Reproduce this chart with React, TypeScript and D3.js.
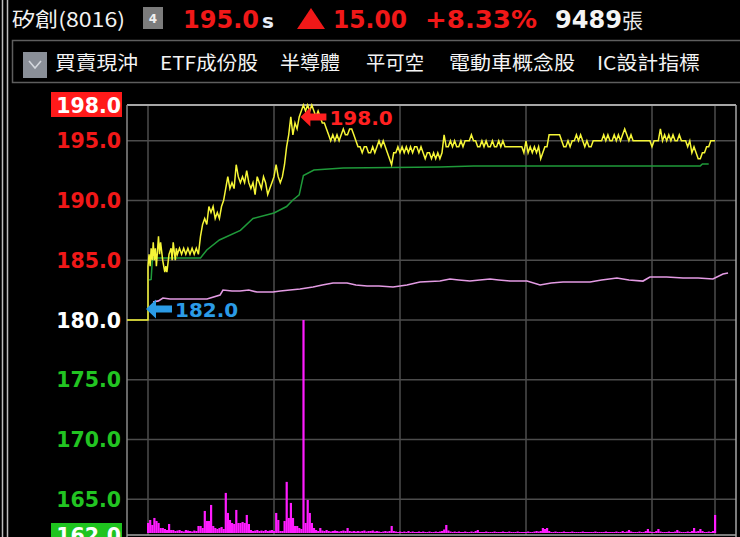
import React, { useEffect } from 'react';
import * as d3 from 'd3';

const W = 740;
const H = 537;

// ---- data ----
const stockName = '矽創(8016)';
const lastPrice = '195.0';
const change = '15.00';
const changePct = '+8.33%';
const totalVol = '9489';
const toolbarItems = ['買賣現沖', 'ETF成份股', '半導體', '平可空', '電動車概念股', 'IC設計指標'];

const yTicks = [198, 195, 190, 185, 180, 175, 170, 165, 162];
const gridPrices = [195, 190, 185, 180, 175, 170, 165];
const hourMarks = [0, 60, 120, 180, 240, 270];
const refPrice = 180;
const highPrice = 198;
const lowPrice = 182;
const highMinute = 74;
const lowMinute = 0;

// minute since 09:00, price
const pricePoints: [number, number][] = [
  [-10, 180], [0, 180],
  [0, 184.5], [0.5, 185.5], [1, 184.5], [1.5, 186], [2, 185], [2.5, 186.5], [3, 185], [3.5, 186], [4, 184.5],
  [5, 187], [5.5, 185.5], [6, 186.5], [7, 185], [7.5, 184.5], [8, 184], [8.5, 184.5], [9, 184], [10, 185.5],
  [11, 186], [11.5, 185], [12, 186.5], [13, 185], [13.5, 186], [14, 185.5], [15, 186], [16, 185.5], [17, 186],
  [18, 185.5], [19, 186], [20, 185.5], [21, 186], [22, 185.5], [23, 186], [24, 185.5], [25, 187], [26, 188],
  [27, 188.5], [28, 188], [29, 189.5], [30, 189], [31, 189.5], [32, 188.5], [33, 189], [34, 188.5], [35, 189.5],
  [36, 190], [37, 191], [38, 192], [39, 191], [40, 191.5], [41, 191], [42, 193], [43, 192], [44, 191.5],
  [45, 192], [46, 191.5], [47, 192.5], [48, 191.5], [49, 191], [50, 191.5], [51, 190.5], [52, 192], [53, 191.5],
  [54, 191], [55, 192], [56, 191.5], [57, 190.5], [58, 191], [59, 191.5], [60, 192], [61, 193], [62, 192],
  [63, 191.5], [64, 192], [65, 193], [66, 194.5], [67, 195.5], [68, 197], [69, 195.5], [70, 196.5], [71, 196],
  [72, 197], [73, 197.5], [74, 198], [75, 197.5], [76, 198], [77, 197.5], [78, 198], [79, 197.5], [80, 197],
  [81, 197.5], [82, 197], [83, 196.5], [84, 196.5], [85, 196], [86, 195.5], [87, 195], [88, 195.5], [89, 195],
  [90, 195.5], [91, 195], [92, 195.5], [93, 196], [94, 195.5], [95, 195.5], [96, 196], [97, 196], [98, 195.5],
  [99, 195], [100, 194.5], [101, 194.5], [102, 194], [103, 194.5], [104, 194.5], [105, 194], [106, 194],
  [107, 194.5], [108, 194], [109, 194.5], [110, 195], [111, 194.5], [112, 195], [113, 194.5], [114, 194],
  [115, 193.5], [116, 193], [117, 194], [118, 194], [119, 194.5], [120, 194], [121, 194.5], [122, 194],
  [123, 194.5], [124, 194], [125, 194.5], [126, 194], [127, 194.5], [128, 194.5], [129, 194], [130, 194.5],
  [131, 194], [132, 193.5], [133, 194], [134, 194], [135, 193.5], [136, 194], [137, 193.5], [138, 194],
  [139, 193.5], [140, 194], [141, 195.5], [142, 194.5], [143, 194.5], [144, 195], [145, 194.5], [146, 195],
  [147, 194.5], [148, 194.5], [149, 195], [150, 194.5], [151, 195], [152, 195], [153, 195], [154, 195.5],
  [155, 195], [156, 195], [157, 194.5], [158, 194.5], [159, 195], [160, 194.5], [161, 195], [162, 194.5],
  [163, 194.5], [164, 195], [165, 194.5], [166, 194.5], [167, 195], [168, 194.5], [169, 195], [170, 194.5],
  [171, 194.5], [172, 194.5], [174, 194.5], [176, 194.5], [178, 194.5], [179, 194], [180, 195], [181, 194],
  [182, 194.5], [183, 194], [184, 194.5], [185, 194], [186, 194.5], [187, 193.5], [188, 194], [189, 194.5],
  [190, 194.5], [191, 195.5], [192, 195.5], [194, 195.5], [196, 195.5], [197, 195], [198, 194.5], [199, 194.5],
  [200, 195], [201, 194.5], [202, 195], [203, 195], [204, 195.5], [205, 195], [206, 195.5], [207, 195],
  [208, 194.5], [209, 195], [210, 194.5], [211, 194.5], [212, 195], [214, 195], [216, 195], [217, 195.5],
  [218, 195], [219, 195.5], [220, 195], [221, 195], [222, 195.5], [223, 195], [224, 195.5], [225, 195],
  [226, 195.5], [227, 196], [228, 195.5], [229, 195], [230, 195.5], [231, 195], [234, 195], [237, 195],
  [239, 195], [240, 194.5], [241, 195], [243, 195], [244, 196], [245, 195], [246, 195.5], [247, 195],
  [248, 195.5], [249, 195], [250, 195.5], [251, 195], [252, 195], [253, 195.5], [254, 195], [256, 195],
  [257, 194.5], [258, 195], [259, 194], [260, 194.5], [261, 194], [262, 193.5], [263, 193.5], [264, 194],
  [265, 194], [266, 194.5], [267, 194.5], [268, 195], [270, 195],
];

const avgPoints: [number, number][] = [
  [0.5, 183.35], [1.5, 183.4], [2, 184.86], [2.5, 185.2], [25, 185.2], [28, 185.86], [34, 186.7], [44, 187.5],
  [50, 188.5], [60, 188.96], [66, 189.5], [69, 190.05], [72, 190.47], [74, 192.1], [79, 192.56], [93, 192.73],
  [139, 192.81], [155, 192.9], [263, 192.9], [264, 193.06], [267, 193.06],
];

const indexPoints: [number, number][] = [
  [2.4, 181.51], [5, 181.6], [7.1, 181.84], [10.5, 181.76], [20, 181.76], [28.1, 181.76], [34.3, 182.09],
  [35.7, 182.51], [40, 182.43], [43.8, 182.43], [48, 182.51], [51.9, 182.34], [59.5, 182.34], [63, 182.43],
  [67.6, 182.51], [72.4, 182.6], [78.6, 182.76], [83, 182.93], [88.1, 183.1], [94.8, 183.1], [99, 182.93],
  [104.3, 182.85], [110, 182.85], [116.7, 182.76], [123.3, 182.93], [129.5, 183.18], [139, 183.26],
  [143.8, 183.43], [148, 183.35], [153.3, 183.26], [158, 183.35], [162.9, 183.43], [167, 183.35],
  [172.4, 183.26], [180.5, 183.26], [186.7, 182.93], [192, 183.1], [197.6, 183.18], [204, 183.18],
  [210.5, 183.18], [216, 183.35], [223.3, 183.52], [229, 183.35], [235.7, 183.26], [239, 183.6],
  [247, 183.6], [254.8, 183.52], [262, 183.52], [269, 183.43], [273.8, 183.85], [276.2, 183.93],
];

// lots per minute, 09:00 .. 13:30
const volumes: number[] = [
  40, 52, 32, 60, 48, 40, 20, 20, 16, 12,
  36, 12, 12, 8, 10, 12, 8, 6, 12, 10,
  8, 6, 10, 8, 28, 28, 20, 88, 48, 48,
  112, 28, 20, 16, 20, 24, 16, 160, 80, 52,
  40, 36, 92, 40, 40, 44, 40, 72, 36, 12,
  8, 10, 12, 8, 10, 8, 12, 8, 10, 12,
  8, 80, 52, 8, 8, 48, 204, 60, 120, 60,
  28, 28, 20, 16, 850, 40, 132, 80, 40, 20,
  12, 8, 20, 10, 8, 12, 8, 6, 8, 10,
  8, 6, 8, 10, 8, 20, 8, 6, 8, 6,
  8, 6, 8, 10, 6, 8, 8, 10, 6, 8,
  6, 4, 6, 8, 6, 8, 28, 8, 6, 4,
  6, 4, 6, 4, 8, 4, 6, 4, 4, 6,
  4, 6, 4, 4, 6, 4, 4, 6, 4, 6,
  8, 14, 32, 10, 6, 4, 6, 4, 6, 4,
  4, 6, 4, 4, 6, 4, 8, 12, 4, 4,
  4, 6, 4, 4, 4, 6, 4, 4, 4, 6,
  4, 4, 6, 4, 4, 4, 6, 4, 4, 4,
  4, 6, 4, 4, 6, 8, 6, 8, 20, 16,
  20, 8, 4, 4, 6, 4, 4, 4, 6, 4,
  4, 4, 6, 4, 4, 4, 4, 6, 4, 4,
  4, 4, 4, 6, 4, 4, 4, 4, 6, 4,
  4, 4, 4, 6, 4, 4, 8, 4, 6, 12,
  6, 4, 4, 4, 6, 4, 4, 8, 16, 6,
  4, 4, 8, 16, 6, 4, 4, 4, 6, 4,
  4, 6, 12, 6, 4, 4, 4, 6, 4, 8,
  20, 6, 8, 16, 8, 4, 4, 6, 4, 8,
  72,
];

// ---- layout ----
const toolbarLayout = [
  { x: 55, w: 83 }, { x: 160, w: 98 }, { x: 280, w: 60 },
  { x: 366, w: 58 }, { x: 449, w: 126 }, { x: 597, w: 103 },
];
const PLOT = { left: 127, right: 736, top: 105, bottom: 535 };
const RED = '#f01818';
const GREEN = '#22c422';
const LABEL_FONT = '"DejaVu Sans", Verdana, sans-serif';
const CJK_FONT = '"Noto Sans CJK TC", "Noto Sans CJK SC", sans-serif';

export default function App() {
  useEffect(() => {
    document.body.style.margin = '0';
    document.body.style.background = '#000';
  }, []);

  const x = d3.scaleLinear().domain([-10, 280]).range([PLOT.left, PLOT.right]);
  const y = d3.scaleLinear().domain([162, 198]).range([PLOT.bottom, PLOT.top]);
  const vMax = d3.max(volumes) || 1;
  const v = d3.scaleLinear().domain([0, vMax]).range([PLOT.bottom - 2, 320]);

  const line = d3.line<[number, number]>().x((d) => x(d[0])).y((d) => y(d[1]));

  const labelColor = (p: number) => (p > refPrice ? RED : p < refPrice ? GREEN : '#ffffff');

  const arrow = (tipX: number, tipY: number, color: string, text: string) => (
    <g>
      <path
        d={`M${tipX},${tipY} L${tipX + 10},${tipY - 9.5} L${tipX + 10},${tipY - 3.5} L${tipX + 26},${tipY - 3.5} L${tipX + 26},${tipY + 3.5} L${tipX + 10},${tipY + 3.5} L${tipX + 10},${tipY + 9.5} Z`}
        fill={color}
      />
      <text x={tipX + 29} y={tipY + 7.5} fill={color} fontFamily={LABEL_FONT} fontWeight="bold" fontSize={20}>
        {text}
      </text>
    </g>
  );

  return (
    <svg width={W} height={H} style={{ display: 'block', background: '#000' }}>
      <rect x={0} y={0} width={W} height={H} fill="#000" />
      {/* left frame lines */}
      <line x1={2.5} x2={2.5} y1={0} y2={H} stroke="#bdbdbd" strokeWidth={1.5} />
      <line x1={7.5} x2={7.5} y1={0} y2={H} stroke="#bdbdbd" strokeWidth={1.5} />

      {/* header row */}
      <text x={12} y={27} fill="#f2f2f2" fontFamily={CJK_FONT} fontSize={20} textLength={113} lengthAdjust="spacingAndGlyphs">
        {stockName}
      </text>
      <rect x={143} y={7} width={20} height={22} fill="#7c7c7c" />
      <text x={153} y={23} fill="#f0f0f0" fontFamily={LABEL_FONT} fontWeight="bold" fontSize={12} textAnchor="middle">4</text>
      <text x={183} y={28} fill={RED} fontFamily={LABEL_FONT} fontWeight="bold" fontSize={24} textLength={76} lengthAdjust="spacingAndGlyphs">
        {lastPrice}
      </text>
      <text x={262} y={28} fill="#e6edf8" fontFamily={LABEL_FONT} fontWeight="bold" fontSize={20}>s</text>
      <polygon points="297,29 311,8 325,29" fill={RED} />
      <text x={333} y={28} fill={RED} fontFamily={LABEL_FONT} fontWeight="bold" fontSize={24} textLength={74} lengthAdjust="spacingAndGlyphs">
        {change}
      </text>
      <text x={425} y={28} fill={RED} fontFamily={LABEL_FONT} fontWeight="bold" fontSize={24} textLength={112} lengthAdjust="spacingAndGlyphs">
        {changePct}
      </text>
      <text x={555} y={28} fill="#f4f4f4" fontFamily={LABEL_FONT} fontWeight="bold" fontSize={24} textLength={67} lengthAdjust="spacingAndGlyphs">
        {totalVol}
      </text>
      <text x={622} y={28} fill="#e8e8e8" fontFamily={CJK_FONT} fontSize={21}>張</text>

      {/* toolbar */}
      <rect x={12.5} y={40.5} width={730} height={42} fill="none" stroke="#5e5e5e" strokeWidth={1.5} />
      <rect x={23} y={52} width={24} height={26} fill="#8a8f98" />
      <polyline points="29,61 35,68 41,61" fill="none" stroke="#d4d8de" strokeWidth={1.6} />
      {toolbarItems.map((t, i) => (
        <text
          key={t}
          x={toolbarLayout[i].x}
          y={70}
          fill="#f4f4f4"
          fontFamily={CJK_FONT}
          fontSize={19}
          textLength={toolbarLayout[i].w}
          lengthAdjust="spacingAndGlyphs"
        >
          {t}
        </text>
      ))}

      {/* grid */}
      {gridPrices.map((p) => (
        <line key={p} x1={PLOT.left} x2={PLOT.right} y1={y(p)} y2={y(p)} stroke="#4c4c4c" strokeWidth={1.5} />
      ))}
      {hourMarks.map((m) => (
        <line key={m} x1={x(m)} x2={x(m)} y1={PLOT.top} y2={PLOT.bottom} stroke="#4c4c4c" strokeWidth={1.5} />
      ))}
      <line x1={PLOT.left} x2={PLOT.right} y1={PLOT.top} y2={PLOT.top} stroke="#a6a6a6" strokeWidth={2} />
      <line x1={PLOT.left} x2={PLOT.left} y1={PLOT.top} y2={H} stroke="#8a8a8a" strokeWidth={1.5} />
      <line x1={PLOT.right} x2={PLOT.right} y1={PLOT.top} y2={H} stroke="#a6a6a6" strokeWidth={1.5} />
      <line x1={PLOT.left} x2={PLOT.right} y1={PLOT.bottom} y2={PLOT.bottom} stroke="#a6a6a6" strokeWidth={1.5} />

      {/* volume */}
      {volumes.map((vol, i) => (
        <rect key={i} x={x(i) - 1} y={v(vol)} width={2.2} height={Math.max(0, v(0) - v(vol))} fill="#ff1cff" />
      ))}

      {/* index overlay */}
      <path d={line(indexPoints) || ''} fill="none" stroke="#e39be3" strokeWidth={1.6} />
      {/* average price */}
      <path d={line(avgPoints) || ''} fill="none" stroke="#1f9a3a" strokeWidth={1.5} />
      {/* price */}
      <path d={line(pricePoints) || ''} fill="none" stroke="#f6f637" strokeWidth={1.5} />

      {/* y labels */}
      {yTicks.map((p) => {
        const isHigh = p === 198;
        const isLow = p === 162;
        const cy = y(p);
        return (
          <g key={p}>
            {isHigh && <rect x={51} y={cy - 13} width={71} height={25} fill="#ff1a1a" />}
            {isLow && <rect x={51} y={cy - 12} width={71} height={25} fill="#1fc41f" />}
            <text
              x={121}
              y={cy + 7.5}
              textAnchor="end"
              fill={isHigh || isLow ? '#ffffff' : labelColor(p)}
              fontFamily={LABEL_FONT}
              fontWeight="bold"
              fontSize={20.5}
            >
              {p.toFixed(1)}
            </text>
          </g>
        );
      })}

      {/* high / low markers */}
      {arrow(x(highMinute) - 3, y(highPrice) + 12, '#ff2020', highPrice.toFixed(1))}
      {arrow(x(lowMinute) - 2, y(lowPrice) + 13, '#2b9be6', lowPrice.toFixed(1))}
    </svg>
  );
}
